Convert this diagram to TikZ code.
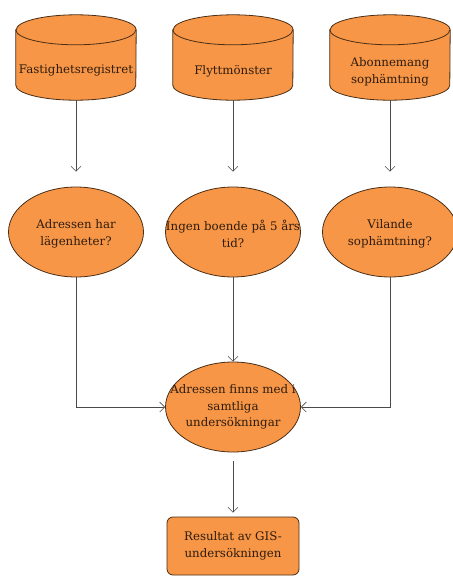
\documentclass[tikz,border=0pt]{standalone}
\usepackage{fontspec}
\setmainfont{DejaVu Serif}
\usetikzlibrary{shapes.geometric,arrows.meta}
\definecolor{boxfill}{HTML}{F79646}
\definecolor{boxline}{HTML}{4A2E16}
\definecolor{boxtext}{HTML}{2E1C0E}
\definecolor{arrowline}{HTML}{4A4A4A}

% cylinder outline round the body node #1
\newcommand{\drawregister}[1]{%
  \draw[outline, fill=boxfill]
    (#1.north west) -- ([yshift=15pt]#1.south west)
    arc[start angle=180, end angle=360, x radius=60pt, y radius=15pt]
    -- (#1.north east)
    arc[start angle=0, end angle=180, x radius=60pt, y radius=15pt] -- cycle;
  \draw[outline] (#1.north west)
    arc[start angle=180, end angle=360, x radius=60pt, y radius=15pt];
}

\begin{document}
\begin{tikzpicture}[x=1pt, y=-1pt,
  font=\fontsize{11.8}{16.5}\selectfont,
  outline/.style={draw=boxline, line width=0.8pt},
  register/.style={rectangle, minimum width=120pt, minimum height=70pt,
    inner sep=0pt},
  question/.style={ellipse, outline, fill=boxfill,
    minimum width=135pt, minimum height=90pt, inner sep=0pt},
  result/.style={rectangle, rounded corners=6pt, outline, fill=boxfill,
    minimum width=132pt, minimum height=58pt, align=center, text=boxtext},
  inside/.style={align=center, text=boxtext},
  flow/.style={draw=arrowline, line width=0.6pt,
    -{Straight Barb[length=5pt,width=10pt]}}]
\useasboundingbox (0,0) rectangle (453,579);

\coordinate (p1) at (76, 65);
\coordinate (p2) at (233, 65);
\coordinate (p3) at (390, 65);
\coordinate (p4) at (76, 232);
\coordinate (p5) at (233, 232);
\coordinate (p6) at (390, 232);
\coordinate (p7) at (233, 407);
\coordinate (p8) at (233, 546);

\node[register] (fast) at (p1) {};
\node[register] (flytt) at (p2) {};
\node[register] (abonn) at (p3) {};
\foreach \n in {fast, flytt, abonn}
  \drawregister{\n};
\node[inside, yshift=-5pt] at (fast) {Fastighetsregistret};
\node[inside, yshift=-6pt] at (flytt) {Flyttmönster};
\node[inside, yshift=-7pt] at (abonn) {Abonnemang\\sophämtning};

\node[question, label={[inside, yshift=-2pt]center:Adressen har\\lägenheter?}] (lgh) at (p4) {};
\node[question, label={[inside, yshift=-2pt]center:Ingen boende på 5 års\\tid?}] (boende) at (p5) {};
\node[question, label={[inside, yshift=-2pt]center:Vilande\\sophämtning?}] (vilande) at (p6) {};

\node[question, label={[inside]center:Adressen finns med i\\samtliga\\undersökningar}] (samtliga) at (p7) {};
\node[result] (gis) at (p8) {Resultat av GIS-\\undersökningen};

\draw[flow, shorten >=15pt] (fast.south) -- (lgh.north);
\draw[flow, shorten >=15pt] (flytt.south) -- (boende.north);
\draw[flow, shorten >=15pt] (abonn.south) -- (vilande.north);

\draw[flow] (lgh.south) |- (samtliga.west);
\draw[flow] (boende.south) -- (samtliga.north);
\draw[flow] (vilande.south) |- (samtliga.east);
\draw[flow, shorten <=9pt, shorten >=4pt] (samtliga.south) -- (gis.north);
\end{tikzpicture}
\end{document}
